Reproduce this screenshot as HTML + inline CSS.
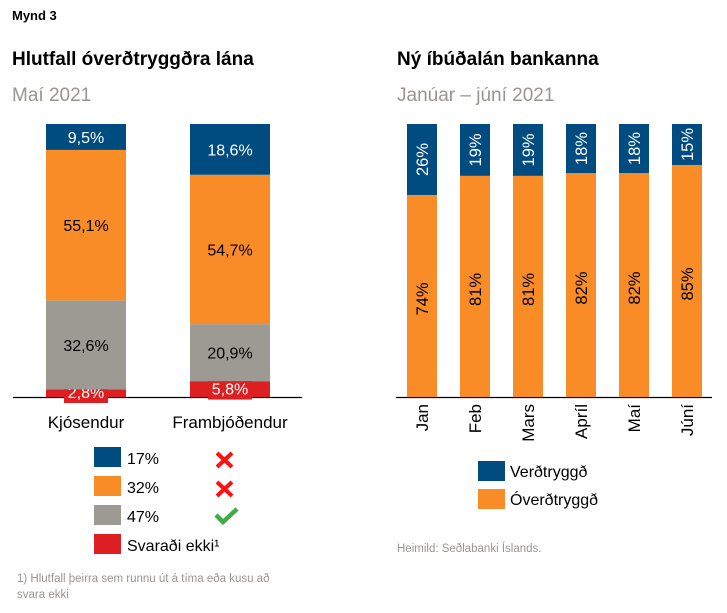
<!DOCTYPE html>
<html><head><meta charset="utf-8">
<style>
html,body{margin:0;padding:0;background:#fff;}
body{width:727px;height:608px;overflow:hidden;font-family:"Liberation Sans","DejaVu Sans",sans-serif;}
svg text{font-family:"Liberation Sans","DejaVu Sans",sans-serif;}
</style></head>
<body>
<svg id="chart" width="727" height="608" xmlns="http://www.w3.org/2000/svg">
<text x="12" y="20" font-size="13" font-weight="bold">Mynd 3</text>
<text x="12" y="65" font-size="19" font-weight="bold">Hlutfall óverðtryggðra lána</text>
<text x="12" y="101" font-size="19" fill="#999590">Maí 2021</text>
<text x="397" y="65" font-size="19" font-weight="bold">Ný íbúðalán bankanna</text>
<text x="397" y="101" font-size="19" fill="#999590">Janúar – júní 2021</text>
<line x1="13" y1="397.5" x2="302" y2="397.5" stroke="#000" stroke-width="1.2"/>
<line x1="396" y1="397.5" x2="712" y2="397.5" stroke="#000" stroke-width="1.2"/>
<g id="left"></g>
<g id="right"></g>
<!-- left legend -->
<g font-size="16">
<rect x="94" y="447" width="27" height="20" fill="#004b80"/>
<text x="127" y="464">17%</text>
<rect x="94" y="476" width="27" height="20" fill="#f98c27"/>
<text x="127" y="493">32%</text>
<rect x="94" y="505" width="27" height="20" fill="#9d9a94"/>
<text x="127" y="522">47%</text>
<rect x="94" y="534" width="27" height="20" fill="#de1f22"/>
<text x="127" y="551">Svaraði ekki¹</text>
<path d="M217 453 L232 467 M232 453 L217 467" stroke="#ff1010" stroke-width="4"/>
<path d="M217 482 L232 496 M232 482 L217 496" stroke="#ff1010" stroke-width="4"/>
<path d="M216 515 L223 522 L237 509" stroke="#3fae49" stroke-width="4.5" fill="none"/>
</g>
<text font-size="11.5" fill="#999590"><tspan x="17" y="582">1) Hlutfall þeirra sem runnu út á tíma eða kusu að</tspan><tspan x="17" y="598">svara ekki</tspan></text>
<!-- right legend -->
<g font-size="16">
<rect x="478" y="461" width="27" height="20" fill="#004b80"/>
<text x="510" y="477">Verðtryggð</text>
<rect x="478" y="489" width="27" height="20" fill="#f98c27"/>
<text x="510" y="505">Óverðtryggð</text>
</g>
<text x="397" y="552" font-size="11.5" fill="#999590">Heimild: Seðlabanki Íslands.</text>
</svg>
<script>
const leftCategories = ["Kjósendur", "Frambjóðendur"];
const leftBlue = [9.5, 18.6];
const leftOrange = [55.1, 54.7];
const leftGray = [32.6, 20.9];
const leftRed = [2.8, 5.8];

const months = ["Jan", "Feb", "Mars", "Apríl", "Maí", "Júní"];
const indexed = [26, 19, 19, 18, 18, 15];
const nonIndexed = [74, 81, 81, 82, 82, 85];

const NS = "http://www.w3.org/2000/svg";
const BASE = 397, TOP = 124;
const yScale = v => (BASE - TOP) * v / 100;
function mk(tag, attrs, parent) {
  const e = document.createElementNS(NS, tag);
  for (const k in attrs) e.setAttribute(k, attrs[k]);
  parent.appendChild(e); return e;
}
const fmt = v => v.toFixed(1).replace('.', ',') + '%';

// Left chart
const L = document.getElementById('left');
const lx = i => 46 + i * 144;
const LW = 80;
leftCategories.forEach((c, i) => {
  const segs = [[leftRed[i], '#de1f22', 'red'], [leftGray[i], '#9d9a94', 'gray'], [leftOrange[i], '#f98c27', 'orange'], [leftBlue[i], '#004b80', 'blue']];
  let y = BASE;
  segs.forEach(([v, col, nm]) => {
    const h = yScale(v);
    y -= h;
    const r = mk('rect', {x: lx(i), y: y, width: LW, height: h, fill: col}, L);
    
    
    const cy = y + h / 2;
    if (nm === 'red') {
      const bw = 44, bh = 21;
      const by = Math.min(cy - bh / 2, BASE - bh + 6);
      const bx = mk('rect', {x: lx(i) + LW / 2 - bw / 2, y: by, width: bw, height: bh, fill: '#de1f22'}, L);
      
      
      const t = mk('text', {x: lx(i) + LW / 2, y: by + 16, 'text-anchor': 'middle', 'font-size': 16, fill: '#fff'}, L);
      t.textContent = fmt(v);
      
      
    } else {
      const t = mk('text', {x: lx(i) + LW / 2, y: cy + 6, 'text-anchor': 'middle', 'font-size': 16, fill: nm === 'blue' ? '#fff' : '#000'}, L);
      t.textContent = fmt(v);
      
      
    }
  });
  const t = mk('text', {x: lx(i) + LW / 2, y: 428, 'text-anchor': 'middle', 'font-size': 17}, L);
  t.textContent = c;
  
  
});

// Right chart
const R = document.getElementById('right');
const rx = i => 407 + i * 53;
const RW = 30;
months.forEach((m, i) => {
  const hO = yScale(nonIndexed[i]);
  const hB = yScale(indexed[i]);
  const yO = BASE - hO, yB = yO - hB;
  const ro = mk('rect', {x: rx(i), y: yO, width: RW, height: hO, fill: '#f98c27'}, R);
  
  
  const rb = mk('rect', {x: rx(i), y: yB, width: RW, height: hB, fill: '#004b80'}, R);
  
  
  const cx = rx(i) + RW / 2 + 6;
  const cyO = yO + hO / 2 + 3, cyB = yB + hB / 2;
  const to = mk('text', {x: cx, y: cyO, 'text-anchor': 'middle', 'font-size': 16.5, transform: `rotate(-90 ${cx} ${cyO})`}, R);
  to.textContent = nonIndexed[i] + '%';
  
  
  const tb = mk('text', {x: cx, y: cyB, 'text-anchor': 'middle', 'font-size': 16.5, fill: '#fff', transform: `rotate(-90 ${cx} ${cyB})`}, R);
  tb.textContent = indexed[i] + '%';
  
  
  const tx = rx(i) + RW / 2 + 6, ty = 404;
  const tm = mk('text', {x: tx, y: ty, 'text-anchor': 'end', 'font-size': 17, transform: `rotate(-90 ${tx} ${ty})`}, R);
  tm.textContent = m;
  
  
});
</script>
</body></html>
